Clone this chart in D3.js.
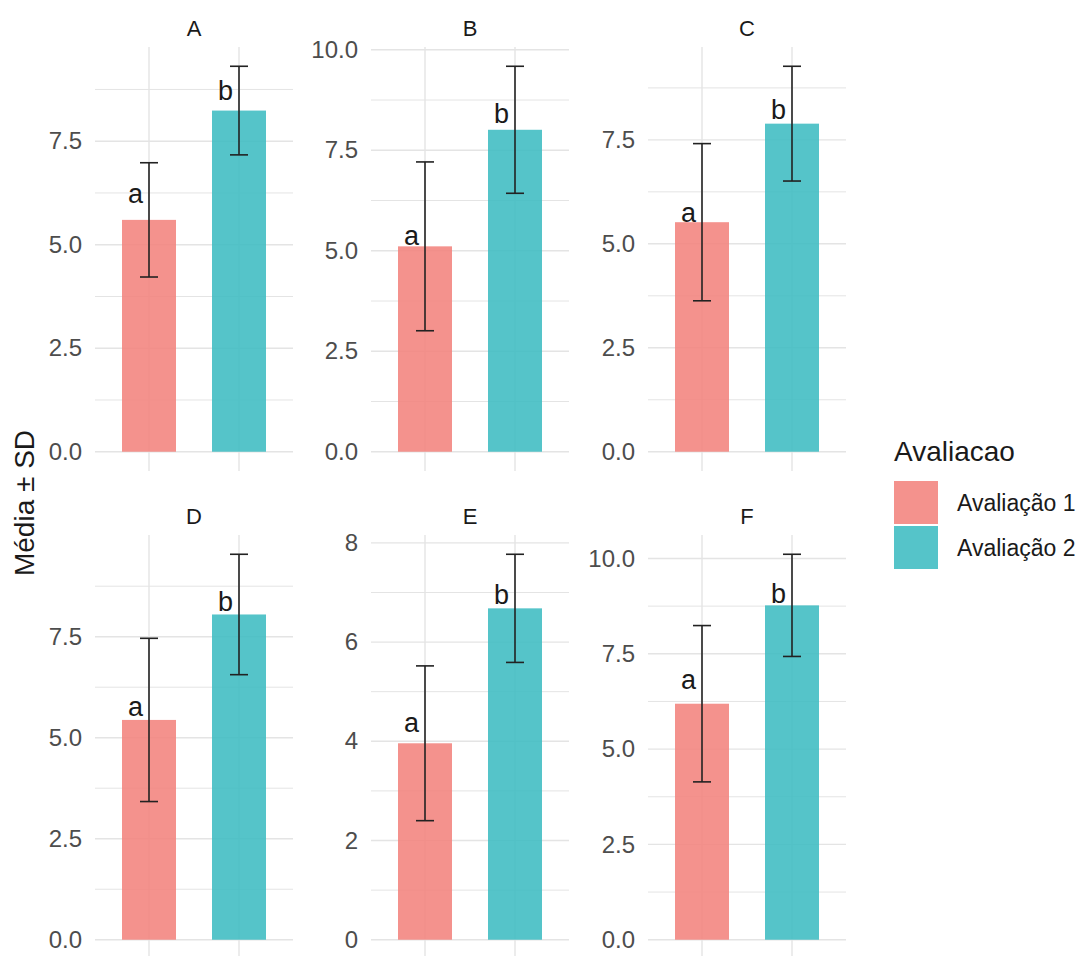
<!DOCTYPE html>
<html lang="pt">
<head>
    <meta charset="utf-8">
    <title>Média ± SD</title>
    <script src="https://d3js.org/d3.v7.min.js"></script>
    <style>
        body { margin: 0; background: #fff; }
        svg text { font-family: "Liberation Sans", Arial, sans-serif; }
    </style>
</head>
<body>
<svg width="1084" height="956"></svg>
<script>
    // dados
    var facets = ["A", "B", "C", "D", "E", "F"];
    var groups = ["Avaliação 1", "Avaliação 2"];
    var mean1 = [5.60, 5.11, 5.52, 5.44, 3.96, 6.19];
    var sd1 = [1.38, 2.10, 1.89, 2.02, 1.56, 2.05];
    var mean2 = [8.24, 8.01, 7.89, 8.05, 6.68, 8.77];
    var sd2 = [1.07, 1.58, 1.38, 1.49, 1.09, 1.34];
    var letters1 = ["a", "a", "a", "a", "a", "a"];
    var letters2 = ["b", "b", "b", "b", "b", "b"];
    var letterY1 = [6.01, 5.14, 5.53, 5.53, 4.19, 6.57];
    var letterY2 = [8.50, 8.18, 8.01, 8.13, 6.77, 8.84];
    var yTicks = [
        [0, 2.5, 5, 7.5],
        [0, 2.5, 5, 7.5, 10],
        [0, 2.5, 5, 7.5],
        [0, 2.5, 5, 7.5],
        [0, 2, 4, 6, 8],
        [0, 2.5, 5, 7.5, 10]
    ];
    var yTickLabels = [
        ["0.0", "2.5", "5.0", "7.5"],
        ["0.0", "2.5", "5.0", "7.5", "10.0"],
        ["0.0", "2.5", "5.0", "7.5"],
        ["0.0", "2.5", "5.0", "7.5"],
        ["0", "2", "4", "6", "8"],
        ["0.0", "2.5", "5.0", "7.5", "10.0"]
    ];

    var colors = ["#F2837D", "#3DBCC2"];
    var colLeft = [95, 371, 648];
    var rowTop = [47, 535];
    var panelW = 198, panelH = 424;
    var gridColor = "#e4e4e4";

    var svg = d3.select("svg");

    var x = d3.scaleBand()
        .domain(groups)
        .range([0, panelW])
        .paddingInner(0.4)
        .paddingOuter(0.3);
    var step = x.step();

    facets.forEach(function(name, i) {
        var means = [mean1[i], mean2[i]];
        var sds = [sd1[i], sd2[i]];
        var letters = [letters1[i], letters2[i]];
        var letterY = [letterY1[i], letterY2[i]];
        var rows = groups.map(function(gname, j) {
            return {g: gname, m: means[j], sd: sds[j], lab: letters[j], ly: letterY[j], c: colors[j]};
        });

        // expansão padrão do ggplot (5%)
        var ymax = d3.max(rows, function(d) { return d.m + d.sd; });
        var y = d3.scaleLinear()
            .domain([-0.05 * ymax, 1.05 * ymax])
            .range([panelH, 0]);

        var g = svg.append("g")
            .attr("transform", "translate(" + colLeft[i % 3] + "," + rowTop[Math.floor(i / 3)] + ")");

        // grade menor
        var ticks = yTicks[i];
        var half = (ticks[1] - ticks[0]) / 2;
        var minor = ticks.map(function(t) { return t + half; })
            .concat([ticks[0] - half])
            .filter(function(t) { return t >= y.domain()[0] && t <= y.domain()[1]; });
        g.selectAll(".minor").data(minor).enter().append("line")
            .attr("x1", 0).attr("x2", panelW)
            .attr("y1", function(d) { return y(d); })
            .attr("y2", function(d) { return y(d); })
            .attr("stroke", gridColor).attr("stroke-width", 1);

        // grade maior
        g.selectAll(".major").data(ticks).enter().append("line")
            .attr("x1", 0).attr("x2", panelW)
            .attr("y1", function(d) { return y(d); })
            .attr("y2", function(d) { return y(d); })
            .attr("stroke", gridColor).attr("stroke-width", 1.4);
        g.selectAll(".vgrid").data(groups).enter().append("line")
            .attr("x1", function(d) { return x(d) + x.bandwidth() / 2; })
            .attr("x2", function(d) { return x(d) + x.bandwidth() / 2; })
            .attr("y1", 0).attr("y2", panelH)
            .attr("stroke", gridColor).attr("stroke-width", 1.4);

        // eixo y
        var yAxis = d3.axisLeft(y)
            .tickValues(ticks)
            .tickFormat(function(d, k) { return yTickLabels[i][k]; })
            .tickSize(0)
            .tickPadding(13);
        var ax = g.append("g").call(yAxis);
        ax.select(".domain").remove();
        ax.selectAll("text")
            .attr("font-size", 24)
            .attr("font-family", "Liberation Sans, Arial, sans-serif")
            .attr("fill", "#4d4d4d");

        // barras
        g.selectAll(".bar").data(rows).enter().append("rect")
            .attr("x", function(d) { return x(d.g); })
            .attr("width", x.bandwidth())
            .attr("y", function(d) { return y(d.m); })
            .attr("height", function(d) { return y(0) - y(d.m); })
            .attr("fill", function(d) { return d.c; })
            .attr("fill-opacity", 0.88);

        // barras de erro
        var cap = step * 0.1;
        var eb = g.selectAll(".eb").data(rows).enter().append("g")
            .attr("stroke", "#222").attr("stroke-width", 1.6);
        eb.append("line")
            .attr("x1", function(d) { return x(d.g) + x.bandwidth() / 2; })
            .attr("x2", function(d) { return x(d.g) + x.bandwidth() / 2; })
            .attr("y1", function(d) { return y(d.m + d.sd); })
            .attr("y2", function(d) { return y(d.m - d.sd); });
        eb.append("line")
            .attr("x1", function(d) { return x(d.g) + x.bandwidth() / 2 - cap; })
            .attr("x2", function(d) { return x(d.g) + x.bandwidth() / 2 + cap; })
            .attr("y1", function(d) { return y(d.m + d.sd); })
            .attr("y2", function(d) { return y(d.m + d.sd); });
        eb.append("line")
            .attr("x1", function(d) { return x(d.g) + x.bandwidth() / 2 - cap; })
            .attr("x2", function(d) { return x(d.g) + x.bandwidth() / 2 + cap; })
            .attr("y1", function(d) { return y(d.m - d.sd); })
            .attr("y2", function(d) { return y(d.m - d.sd); });

        // letras
        g.selectAll(".lab").data(rows).enter().append("text")
            .attr("x", function(d) { return x(d.g) + x.bandwidth() / 2 - step * 0.15; })
            .attr("y", function(d) { return y(d.ly); })
            .attr("text-anchor", "middle")
            .attr("font-size", 27)
            .attr("fill", "#1a1a1a")
            .text(function(d) { return d.lab; });

        // título do painel
        g.append("text")
            .attr("x", panelW / 2)
            .attr("y", -19)
            .attr("text-anchor", "middle")
            .attr("dominant-baseline", "central")
            .attr("font-size", 22)
            .attr("fill", "#1a1a1a")
            .text(name);
    });

    // título do eixo y
    svg.append("text")
        .attr("transform", "translate(24,503) rotate(-90)")
        .attr("text-anchor", "middle")
        .attr("dominant-baseline", "central")
        .attr("font-size", 28)
        .attr("fill", "#1a1a1a")
        .text("Média ± SD");

    // legenda
    var leg = svg.append("g").attr("transform", "translate(894,0)");
    leg.append("text")
        .attr("x", 0).attr("y", 461)
        .attr("font-size", 28)
        .attr("fill", "#1a1a1a")
        .text("Avaliacao");
    var keys = leg.selectAll(".key").data(groups).enter().append("g")
        .attr("transform", function(d, j) { return "translate(0," + (481 + j * 45) + ")"; });
    keys.append("rect")
        .attr("width", 44).attr("height", 43)
        .attr("fill", function(d, j) { return colors[j]; })
        .attr("fill-opacity", 0.88);
    keys.append("text")
        .attr("x", 63).attr("y", 22)
        .attr("dominant-baseline", "central")
        .attr("font-size", 23)
        .attr("fill", "#1a1a1a")
        .text(function(d) { return d; });
</script>
</body>
</html>
